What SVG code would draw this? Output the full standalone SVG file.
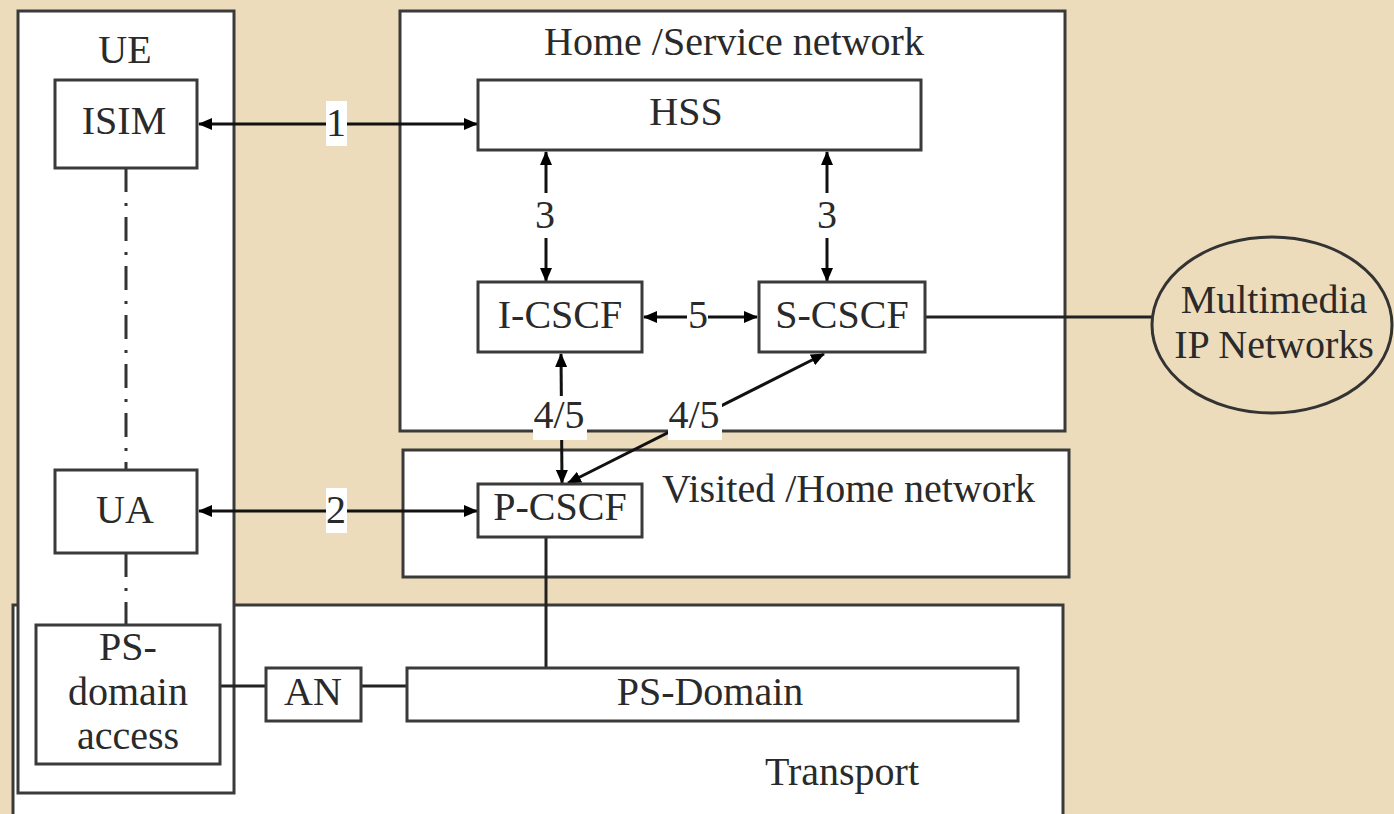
<svg xmlns="http://www.w3.org/2000/svg" width="1394" height="814" viewBox="0 0 1394 814">
<defs>
<marker id="ah" viewBox="0 0 14 12" refX="13" refY="6" markerWidth="14" markerHeight="12" markerUnits="userSpaceOnUse" orient="auto-start-reverse">
<path d="M0,0 L14,6 L0,12 Z" fill="#000"/>
</marker>
<style>
.box{fill:#fff;stroke:#3a3a3a;stroke-width:3}
.t{font-family:"Liberation Serif","Times New Roman",serif;font-size:40px;fill:#2a2a2a;text-anchor:middle}
.tl{font-family:"Liberation Serif","Times New Roman",serif;font-size:40px;fill:#2a2a2a}
.ln{stroke:#222;stroke-width:3;fill:none}
.ar{stroke:#111;stroke-width:3;fill:none;marker-start:url(#ah);marker-end:url(#ah)}
.dd{stroke:#333;stroke-width:3;fill:none;stroke-dasharray:24 11 3 11}
.lb{fill:#fff}
</style>
</defs>
<rect width="1394" height="814" fill="#EDDCBB"/>
<g id="transport">
<rect class="box" x="13" y="605" width="1050" height="240"/>
<text class="t" x="842" y="785">Transport</text>
</g>
<g id="ue">
<rect class="box" x="18" y="11" width="216" height="782"/>
<text class="t" x="125" y="63">UE</text>
</g>
<g id="home-service-network">
<rect class="box" x="400" y="11" width="665" height="420"/>
<text class="t" x="734" y="55">Home /Service network</text>
</g>
<g id="visited-home-network">
<rect class="box" x="403" y="450" width="666" height="127"/>
<text class="tl" x="662" y="502">Visited /Home network</text>
</g>
<g id="connectors">
<line class="dd" x1="126" y1="168" x2="126" y2="470"/>
<line class="dd" x1="126" y1="553" x2="126" y2="624"/>
<line class="ar" x1="199" y1="124" x2="477" y2="124"/>
<line class="ar" x1="199" y1="511" x2="477" y2="511"/>
<line class="ar" x1="546" y1="152" x2="546" y2="281"/>
<line class="ar" x1="827" y1="152" x2="827" y2="281"/>
<line class="ar" x1="644" y1="317" x2="757" y2="317"/>
<line class="ar" x1="561" y1="354" x2="562" y2="483"/>
<line class="ar" x1="824" y1="354" x2="568" y2="483"/>
<line class="ln" x1="546" y1="537" x2="546" y2="668"/>
<line class="ln" x1="925" y1="317" x2="1152" y2="317"/>
<line class="ln" x1="220" y1="686" x2="266" y2="686"/>
<line class="ln" x1="361" y1="686" x2="407" y2="686"/>
<rect class="lb" x="326" y="101" width="21" height="45"/>
<text class="t" x="336" y="136">1</text>
<rect class="lb" x="326" y="488" width="21" height="45"/>
<text class="t" x="336" y="523">2</text>
<rect class="lb" x="535" y="193" width="21" height="45"/>
<text class="t" x="545" y="228">3</text>
<rect class="lb" x="816" y="193" width="21" height="45"/>
<text class="t" x="827" y="228">3</text>
<rect class="lb" x="687" y="294" width="21" height="45"/>
<text class="t" x="698" y="328">5</text>
<rect class="lb" x="533" y="396" width="54" height="44"/>
<text class="t" x="559" y="428">4/5</text>
<rect class="lb" x="668" y="396" width="54" height="44"/>
<text class="t" x="694" y="428">4/5</text>
</g>
<g id="isim">
<rect class="box" x="55" y="80" width="142" height="88"/>
<text class="t" x="124" y="134">ISIM</text>
</g>
<g id="ua">
<rect class="box" x="55" y="470" width="142" height="83"/>
<text class="t" x="125" y="523">UA</text>
</g>
<g id="ps-domain-access">
<rect class="box" x="36" y="625" width="184" height="139"/>
<text class="t" x="128" y="660">PS-</text>
<text class="t" x="128" y="705">domain</text>
<text class="t" x="128" y="749">access</text>
</g>
<g id="an">
<rect class="box" x="266" y="668" width="95" height="53"/>
<text class="t" x="313" y="705">AN</text>
</g>
<g id="ps-domain">
<rect class="box" x="407" y="668" width="611" height="53"/>
<text class="t" x="710" y="705">PS-Domain</text>
</g>
<g id="hss">
<rect class="box" x="478" y="80" width="443" height="70"/>
<text class="t" x="686" y="125">HSS</text>
</g>
<g id="i-cscf">
<rect class="box" x="478" y="282" width="164" height="70"/>
<text class="t" x="560" y="328">I-CSCF</text>
</g>
<g id="s-cscf">
<rect class="box" x="759" y="282" width="166" height="70"/>
<text class="t" x="842" y="328">S-CSCF</text>
</g>
<g id="p-cscf">
<rect class="box" x="478" y="484" width="164" height="53"/>
<text class="t" x="560" y="520">P-CSCF</text>
</g>
<g id="multimedia-ip-networks">
<ellipse cx="1272" cy="325" rx="120" ry="88" fill="none" stroke="#333" stroke-width="3"/>
<text class="t" x="1274" y="313">Multimedia</text>
<text class="t" x="1274" y="358">IP Networks</text>
</g>
</svg>
